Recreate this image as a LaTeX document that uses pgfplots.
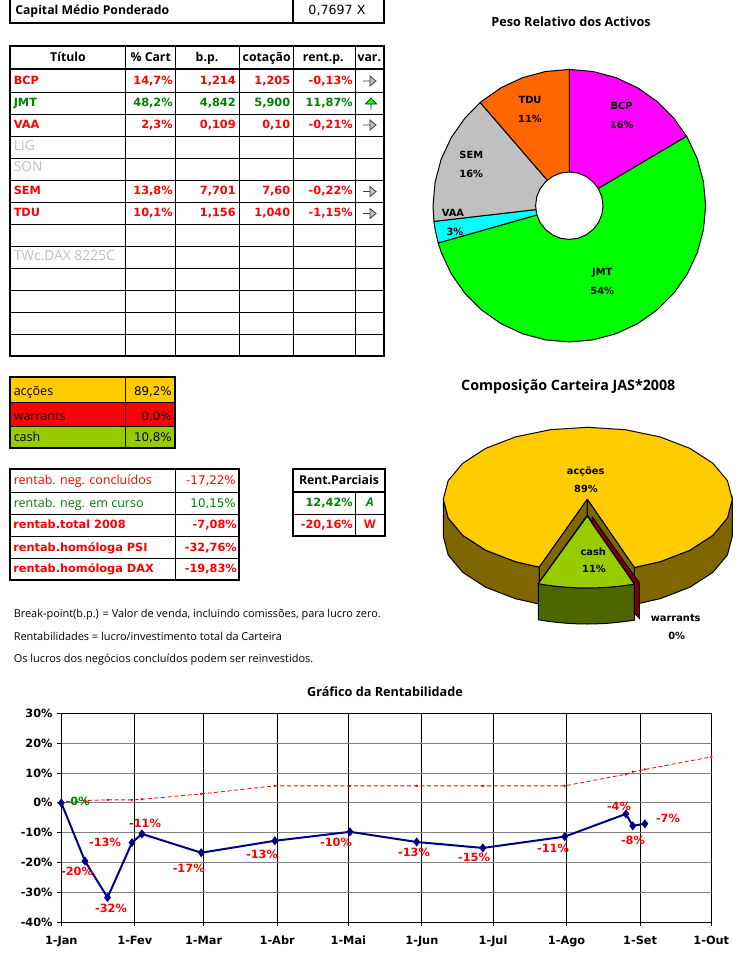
\documentclass[border=0pt]{standalone}
\usepackage{fontspec}
\setmainfont{Open Sans}
\newfontfamily\djv{DejaVu Sans}
\usepackage{pgfplots}
\pgfplotsset{compat=1.18}

\definecolor{xred}{HTML}{FF0000}
\definecolor{xgreen}{HTML}{008000}
\definecolor{xgray}{HTML}{C0C0C0}
\definecolor{xnavy}{HTML}{000080}
\definecolor{gold}{HTML}{FFCC00}
\definecolor{goldside}{HTML}{806600}
\definecolor{lime}{HTML}{99CC00}
\definecolor{limeside}{HTML}{4D6600}
\definecolor{wine}{HTML}{800000}
\definecolor{mag}{HTML}{FF00FF}
\definecolor{jmt}{HTML}{00FF00}
\definecolor{vaa}{HTML}{00FFFF}
\definecolor{tdu}{HTML}{FF6600}

% 1 px of the reference = 0.75pt
\newcommand{\bnum}{\djv\bfseries\fontsize{8.5}{10}\selectfont}
\newcommand{\rnum}{\djv\fontsize{8.9}{10}\selectfont}
\newcommand{\rtxt}{\fontsize{9.4}{11}\selectfont}
\newcommand{\ntxt}{\fontsize{8.2}{10}\selectfont}
\newcommand{\htxt}{\bfseries\fontsize{9.2}{11}\selectfont}
\newcommand{\ttxt}{\bfseries\fontsize{9.5}{11}\selectfont}
\newcommand{\ptxt}{\djv\bfseries\fontsize{7.4}{9}\selectfont}
\newcommand{\gtxt}{\fontsize{10.4}{12}\selectfont}

\tikzset{
  cell/.style={inner sep=0pt,anchor=mid},
  R/.style={inner sep=0pt,anchor=mid east},
  L/.style={inner sep=0pt,anchor=mid west},
  thin line/.style={line width=0.75pt},
  thick line/.style={line width=1.5pt},
  pie/.style={draw=black,line width=0.75pt,mark=none,solid},
}
\newcommand{\rarr}[1]{\draw[line width=0.6pt,black!75,fill=xgray]
  (370,#1-5) -- (376,#1) -- (370,#1+5) -- cycle (363,#1) -- (370,#1);}

\begin{document}
\begin{tikzpicture}
\useasboundingbox (0,0) rectangle (560.25pt,723pt);

% ---------- line chart
\begin{axis}[
  at={(45.975pt,31.275pt)}, anchor=south west,
  scale only axis, width=487.5pt, height=156.75pt,
  xmin=0, xmax=274, ymin=-40, ymax=30,
  xtick={0,31,60,91,121,152,182,213,244,274},
  xticklabels={1-Jan,1-Fev,1-Mar,1-Abr,1-Mai,1-Jun,1-Jul,1-Ago,1-Set,1-Out},
  ytick={-40,-30,-20,-10,0,10,20,30},
  yticklabels={-40\%,-30\%,-20\%,-10\%,0\%,10\%,20\%,30\%},
  tick pos=left, tick align=outside, major tick length=3pt,
  tick style={black,line width=0.75pt},
  axis line style={line width=0.75pt},
  xmajorgrids, ymajorgrids,
  x grid style={black,line width=0.75pt},
  y grid style={black!50,line width=0.75pt},
  ticklabel style={font=\bnum},
  xticklabel style={yshift=-4pt},
  clip=false,
]
\addplot[xred,densely dashed,line width=0.6pt,mark=*,mark size=0.6pt,mark options={solid}] coordinates {
  (0,0)(10,0.8)(19.5,1)(29.8,1)(34,1.2)(59,3)(90,5.7)(121.7,5.7)
  (149.8,5.7)(177.7,5.7)(212.2,5.7)(238,9.6)(240.9,10.4)(246,11.2)(274,15.4)
};
\addplot[xnavy,line width=1.5pt,mark=diamond*,mark size=2.2pt,mark options={solid}] coordinates {
  (0,0)(10,-19.5)(19.5,-31.7)(29.8,-13.3)(34,-10.4)(59,-16.7)(90,-12.7)(121.7,-9.7)
  (149.8,-13.1)(177.7,-15.1)(212.2,-11.3)(238,-3.7)(240.9,-7.7)(246,-7)
};
\end{axis}

% ---------- page in reference pixels: pies, tables, notes
\begin{axis}[
  at={(0pt,0pt)}, anchor=south west,
  scale only axis, width=560.25pt, height=723pt,
  xmin=0, xmax=747, ymin=0, ymax=964, y dir=reverse,
  hide axis, clip=false,
]
% doughnut
\addplot[pie,fill=mag] coordinates {(569.3,205.7)(569.3,69.4)(593.0,71.5)(615.9,77.6)(637.5,87.7)(656.9,101.3)(673.7,118.1)(686.6,136.3)(569.3,205.7)};
\addplot[pie,fill=jmt] coordinates {(569.3,205.7)(686.6,136.3)(687.3,137.5)(697.4,159.1)(703.5,182.0)(705.6,205.7)(703.5,229.4)(697.4,252.3)(687.3,273.9)(673.7,293.3)(656.9,310.1)(637.5,323.7)(615.9,333.8)(593.0,339.9)(569.3,342.0)(545.6,339.9)(522.7,333.8)(501.1,323.7)(481.7,310.1)(464.9,293.3)(451.3,273.9)(441.2,252.3)(438.2,243.0)(569.3,205.7)};
\addplot[pie,fill=vaa] coordinates {(569.3,205.7)(438.2,243.0)(435.1,229.4)(433.9,221.4)(569.3,205.7)};
\addplot[pie,fill=xgray] coordinates {(569.3,205.7)(433.9,221.4)(433.0,205.7)(435.1,182.0)(441.2,159.1)(451.3,137.5)(464.9,118.1)(480.2,102.5)(569.3,205.7)};
\addplot[pie,fill=tdu] coordinates {(569.3,205.7)(480.2,102.5)(481.7,101.3)(501.1,87.7)(522.7,77.6)(545.6,71.5)(569.3,69.4)(569.3,205.7)};
\addplot[pie,fill=white] coordinates {(603,205.7)(601.9,214.4)(598.5,222.6)(593.1,229.5)(586.2,234.9)(578,238.3)(569.3,239.4)(560.6,238.3)(552.4,234.9)(545.5,229.5)(540.1,222.6)(536.7,214.4)(535.6,205.7)(536.7,197)(540.1,188.8)(545.5,181.9)(552.4,176.5)(560.6,173.1)(569.3,172)(578,173.1)(586.2,176.5)(593.1,181.9)(598.5,188.8)(601.9,197)(603,205.7)};

% 3D pie
\addplot[pie,fill=goldside] coordinates {(443.3,499.3)(448.2,518)(462.7,535.3)(485.6,550.2)(515.5,561.7)(539.3,567.1)(539.3,604.1)(515.5,598.7)(485.6,587.2)(462.7,572.3)(448.2,555)(443.3,536.3)(443.3,499.3)};
\addplot[pie,fill=goldside] coordinates {(634.3,567.5)(660.1,561.7)(690,550.2)(712.9,535.3)(727.4,518)(732.3,499.3)(732.3,536.3)(727.4,555)(712.9,572.3)(690,587.2)(660.1,598.7)(634.3,604.5)(634.3,567.5)};
\addplot[pie,fill=gold] coordinates {(587.3,499.3)(634.3,567.5)(660.1,561.7)(690.0,550.2)(712.9,535.3)(727.4,518.0)(732.3,499.3)(727.4,480.6)(712.9,463.3)(690.0,448.4)(660.1,436.9)(625.2,429.7)(587.8,427.3)(550.4,429.7)(515.5,436.9)(485.6,448.4)(462.7,463.3)(448.2,480.6)(443.3,499.3)(448.2,518.0)(462.7,535.3)(485.6,550.2)(515.5,561.7)(539.3,567.1)(587.3,499.3)};
\addplot[pie,fill=goldside] coordinates {(587.3,499.3)(539.3,567.1)(539.3,582)(587.3,515)(587.3,499.3)};
\addplot[pie,fill=goldside] coordinates {(587.3,499.3)(634.3,567.5)(634.3,584)(587.3,515)(587.3,499.3)};
\addplot[pie,fill=limeside] coordinates {(538.3,583.7)(547.3,585.2)(557.3,586.4)(567.3,587.3)(577.3,587.8)(587.3,588)(597.3,587.8)(607.3,587.3)(617.3,586.4)(627.3,585.2)(634.3,584.1)(634.3,620.1)(627.3,621.2)(617.3,622.4)(607.3,623.3)(597.3,623.8)(587.3,624)(577.3,623.8)(567.3,623.3)(557.3,622.4)(547.3,621.2)(538.3,619.7)(538.3,583.7)};
\addplot[pie,fill=lime] coordinates {(587.3,516)(538.3,583.7)(547.3,585.2)(557.3,586.4)(567.3,587.3)(577.3,587.8)(587.3,588)(597.3,587.8)(607.3,587.3)(617.3,586.4)(627.3,585.2)(634.3,584.1)(587.3,516)};
\addplot[pie,fill=wine] coordinates {(592,516.7)(639.3,582.7)(639.3,618.3)(634.3,613.3)(634.3,583.3)(592,523.3)(592,516.7)};

% chart texts
\node[cell,font=\ttxt] at (571,23) {Peso Relativo dos Activos};
\node[cell,font=\bfseries\fontsize{10.7}{12}\selectfont] at (568.3,387) {Composição Carteira JAS*2008};
\node[cell,font=\ttxt] at (385,692.5) {Gráfico da Rentabilidade};
\node[cell,font=\ptxt] at (621.7,106) {BCP};
\node[cell,font=\ptxt] at (621.7,125) {16\%};
\node[cell,font=\ptxt] at (602.3,272) {JMT};
\node[cell,font=\ptxt] at (602.3,290.7) {54\%};
\node[cell,font=\ptxt] at (453,212.7) {VAA};
\node[cell,font=\ptxt] at (455,232) {3\%};
\node[cell,font=\ptxt] at (471.3,155.3) {SEM};
\node[cell,font=\ptxt] at (471.3,174) {16\%};
\node[cell,font=\ptxt] at (530,100) {TDU};
\node[cell,font=\ptxt] at (530,119) {11\%};
\node[cell,font=\ptxt] at (585.7,471.3) {acções};
\node[cell,font=\ptxt] at (586,488.7) {89\%};
\node[cell,font=\ptxt] at (593.3,551.7) {cash};
\node[cell,font=\ptxt] at (594,569) {11\%};
\node[cell,font=\ptxt] at (675.7,618.3) {warrants};
\node[cell,font=\ptxt] at (676.7,636) {0\%};

% line chart value labels
\node[cell,font=\bnum,text=xgreen] at (77.7,802.3) {-0\%};
\node[cell,font=\bnum,text=xred] at (77,872.3) {-20\%};
\node[cell,font=\bnum,text=xred] at (105,843.3) {-13\%};
\node[cell,font=\bnum,text=xred] at (111,909.3) {-32\%};
\node[cell,font=\bnum,text=xred] at (145,824.3) {-11\%};
\node[cell,font=\bnum,text=xred] at (188.7,869.3) {-17\%};
\node[cell,font=\bnum,text=xred] at (262,855) {-13\%};
\node[cell,font=\bnum,text=xred] at (336,842.7) {-10\%};
\node[cell,font=\bnum,text=xred] at (414,853.3) {-13\%};
\node[cell,font=\bnum,text=xred] at (474,858.3) {-15\%};
\node[cell,font=\bnum,text=xred] at (553,849) {-11\%};
\node[cell,font=\bnum,text=xred] at (619,807.3) {-4\%};
\node[cell,font=\bnum,text=xred] at (633,840.7) {-8\%};
\node[cell,font=\bnum,text=xred] at (668,819.3) {-7\%};

% capital box
\draw[thick line] (10,0) -- (10,23) -- (384,23) -- (384,0);
\draw[thick line] (293.3,0) -- (293.3,23);
\node[L,font=\htxt] at (15,11) {Capital Médio Ponderado};
\node[cell,font=\djv\fontsize{9.5}{11}\selectfont] at (337,11) {0,7697 X};

% main table
\draw[thin line] (10,92.3)--(384,92.3) (10,114.3)--(384,114.3) (10,136.3)--(384,136.3)
  (10,158.3)--(384,158.3) (10,180.3)--(384,180.3) (10,202.3)--(384,202.3) (10,224.3)--(384,224.3)
  (10,246.3)--(384,246.3) (10,268.3)--(384,268.3) (10,290.3)--(384,290.3) (10,312.3)--(384,312.3)
  (10,334.3)--(384,334.3);
\draw[thin line] (125.7,46)--(125.7,356) (175.3,46)--(175.3,356) (239.3,46)--(239.3,356)
  (293.3,46)--(293.3,356) (355.3,46)--(355.3,356);
\draw[thick line] (10,69)--(384,69);
\draw[thick line] (10,46) rectangle (384,356);
\node[cell,font=\htxt] at (68,57.5) {Título};
\node[cell,font=\htxt] at (150.7,57.5) {\% Cart};
\node[cell,font=\htxt] at (207,57.5) {b.p.};
\node[cell,font=\htxt] at (266.7,57.5) {cotação};
\node[cell,font=\htxt] at (323.3,57.5) {rent.p.};
\node[cell,font=\htxt] at (369.3,57.5) {var.};

\node[L,font=\bnum,text=xred] at (13.5,81) {BCP};
\node[R,font=\bnum,text=xred] at (173,81) {14,7\%};
\node[R,font=\bnum,text=xred] at (236,81) {1,214};
\node[R,font=\bnum,text=xred] at (290.5,81) {1,205};
\node[R,font=\bnum,text=xred] at (353,81) {-0,13\%};
\rarr{81}
\node[L,font=\bnum,text=xgreen] at (13.5,103) {JMT};
\node[R,font=\bnum,text=xgreen] at (173,103) {48,2\%};
\node[R,font=\bnum,text=xgreen] at (236,103) {4,842};
\node[R,font=\bnum,text=xgreen] at (290.5,103) {5,900};
\node[R,font=\bnum,text=xgreen] at (353,103) {11,87\%};
\draw[line width=0.6pt,xgreen!60!black,fill=jmt] (365.5,104)--(371,98)--(376.5,104)--cycle (371,104)--(371,109.5);
\node[L,font=\bnum,text=xred] at (13.5,125) {VAA};
\node[R,font=\bnum,text=xred] at (173,125) {2,3\%};
\node[R,font=\bnum,text=xred] at (236,125) {0,109};
\node[R,font=\bnum,text=xred] at (290.5,125) {0,10};
\node[R,font=\bnum,text=xred] at (353,125) {-0,21\%};
\rarr{125}
\node[L,font=\gtxt,text=xgray] at (13.5,147) {LIG};
\node[L,font=\gtxt,text=xgray] at (13.5,168) {SON};
\node[L,font=\bnum,text=xred] at (13.5,190.5) {SEM};
\node[R,font=\bnum,text=xred] at (173,190.5) {13,8\%};
\node[R,font=\bnum,text=xred] at (236,190.5) {7,701};
\node[R,font=\bnum,text=xred] at (290.5,190.5) {7,60};
\node[R,font=\bnum,text=xred] at (353,190.5) {-0,22\%};
\rarr{191.5}
\node[L,font=\bnum,text=xred] at (13.5,213) {TDU};
\node[R,font=\bnum,text=xred] at (173,213) {10,1\%};
\node[R,font=\bnum,text=xred] at (236,213) {1,156};
\node[R,font=\bnum,text=xred] at (290.5,213) {1,040};
\node[R,font=\bnum,text=xred] at (353,213) {-1,15\%};
\rarr{213.5}
\node[L,font=\gtxt,text=xgray] at (13.5,257) {TWc.DAX 8225C};

% colour box
\fill[gold] (10,377.3) rectangle (175.3,402.3);
\fill[xred] (10,402.3) rectangle (175.3,426);
\fill[lime] (10,426) rectangle (175.3,448.3);
\draw[thin line] (10,402.3)--(175.3,402.3) (10,426)--(175.3,426) (125.7,377.3)--(125.7,448.3);
\draw[thick line] (10,377.3) rectangle (175.3,448.3);
\node[L,font=\rtxt] at (13.5,392) {acções};
\node[R,font=\rnum] at (172,392) {89,2\%};
\node[L,font=\rtxt] at (13.5,416.5) {warrants};
\node[R,font=\rnum] at (172,416.5) {0,0\%};
\node[L,font=\rtxt] at (13.5,437.5) {cash};
\node[R,font=\rnum] at (172,437.5) {10,8\%};

% returns box
\draw[thin line] (10,492.3)--(239.3,492.3) (10,514.3)--(239.3,514.3) (10,536.3)--(239.3,536.3)
  (10,558.3)--(239.3,558.3) (175.3,469.3)--(175.3,580.3);
\draw[thick line] (10,469.3) rectangle (239.3,580.3);
\node[L,font=\rtxt,text=xred] at (13.5,481) {rentab. neg. concluídos};
\node[R,font=\rnum,text=xred] at (236,481) {-17,22\%};
\node[L,font=\rtxt,text=xgreen] at (13.5,503.5) {rentab. neg. em curso};
\node[R,font=\rnum,text=xgreen] at (236,503.5) {10,15\%};
\node[L,font=\bnum,text=xred] at (13,524.5) {rentab.total 2008};
\node[R,font=\bnum,text=xred] at (237,524.5) {-7,08\%};
\node[L,font=\bnum,text=xred] at (13,547.5) {rentab.homóloga PSI};
\node[R,font=\bnum,text=xred] at (237,547.5) {-32,76\%};
\node[L,font=\bnum,text=xred] at (13,569) {rentab.homóloga DAX};
\node[R,font=\bnum,text=xred] at (237,569) {-19,83\%};

% partial returns box
\draw[thin line] (293.3,514.3)--(385,514.3) (355.3,492.3)--(355.3,536);
\draw[thick line] (293.3,492.3)--(385,492.3);
\draw[thick line] (293.3,469.3) rectangle (385,536);
\node[cell,font=\htxt] at (339,480.5) {Rent.Parciais};
\node[R,font=\bnum,text=xgreen] at (353,503) {12,42\%};
\node[cell,font=\bfseries\itshape\fontsize{9}{10}\selectfont,text=xgreen] at (370,503) {A};
\node[R,font=\bnum,text=xred] at (353,524.5) {-20,16\%};
\node[cell,font=\bfseries\fontsize{9}{10}\selectfont,text=xred] at (370,524.5) {W};

% notes
\node[L,font=\ntxt] at (13.5,614.3) {Break-point(b.p.) = Valor de venda, incluindo comissões, para lucro zero.};
\node[L,font=\ntxt] at (13.5,637) {Rentabilidades = lucro/investimento total da Carteira};
\node[L,font=\ntxt] at (13.5,659) {Os lucros dos negócios concluídos podem ser reinvestidos.};
\end{axis}
\end{tikzpicture}
\end{document}
